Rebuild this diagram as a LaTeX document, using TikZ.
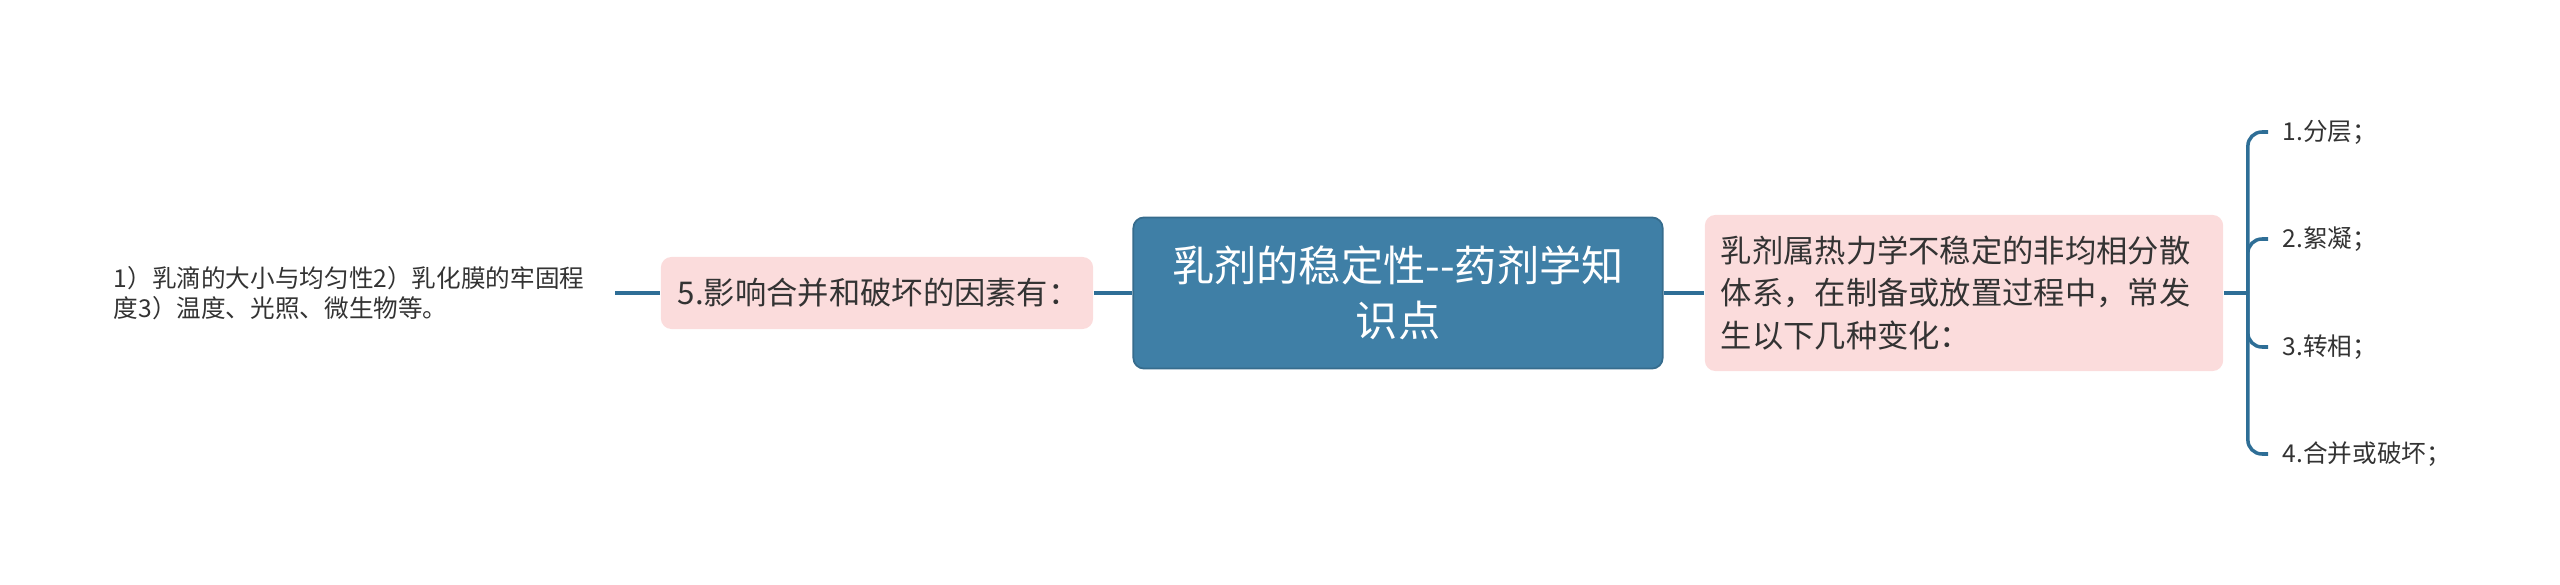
\documentclass[tikz,border=0pt]{standalone}
\usepackage{fontspec}
\setmainfont{Noto Sans CJK SC}
\definecolor{zhuti}{RGB}{63,127,166}
\definecolor{fenhong}{RGB}{251,220,220}
\definecolor{lianxian}{RGB}{46,110,150}
\definecolor{wenzi}{RGB}{51,51,51}
\tikzset{ %节点样式
    zhong/.style={fill=zhuti, draw=zhuti!85!black, line width=0.5pt, rounded corners=3pt, text=white, align=center,
        font=\fontsize{12}{15.6}\selectfont, minimum width=5.29cm, minimum height=1.51cm, inner sep=0pt},
    fen/.style={fill=fenhong, rounded corners=3pt, text=wenzi, align=left, font=\fontsize{8.9}{12}\selectfont, inner ysep=0pt},
    ye/.style={text=wenzi, font=\fontsize{7}{8.5}\selectfont, anchor=west, inner xsep=4pt, inner ysep=0pt},
    lian/.style={draw=lianxian, line width=1pt},
}

\begin{document}
\begin{tikzpicture}[x=0.01cm, y=-0.01cm]
			\useasboundingbox (0,0) rectangle (2560,585);
			\node[zhong] (wending) at (1398,293) {乳剂的稳定性-{}-药剂学知\\识点};
			\node[fen, text width=3.98cm, inner xsep=0.17cm, minimum height=0.72cm] (yinsu) at (877,293) {5.影响合并和破坏的因素有：};
			\node[fen, text width=4.86cm, inner xsep=0.16cm, minimum height=1.56cm] (bianhua) at (1964,293) {乳剂属热力学不稳定的非均相分散\\体系，在制备或放置过程中，常发\\生以下几种变化：};
			\node[ye, anchor=east, inner xsep=0.3cm, align=left] (yinsutxt) at (615,293) {1）乳滴的大小与均匀性2）乳化膜的牢固程\\度3）温度、光照、微生物等。};
			\draw[lian] (yinsutxt.east) -- (yinsu.west);
			\draw[lian] (yinsu.east) -- (wending.west);
			\draw[lian] (wending.east) -- (bianhua.west);
			\coordinate (fenzhi) at ([xshift=0.24cm]bianhua.east);
			\draw[lian] (bianhua.east) -- (fenzhi);
			\foreach \i/\txt/\y in {1/1.分层；/132, 2/2.絮凝；/239, 3/3.转相；/347, 4/4.合并或破坏；/454}{
				\node[ye] (leaf\i) at (2268,\y) {\txt};
				\draw[lian, rounded corners=4pt] (fenzhi) |- (leaf\i.west);
			}
		\end{tikzpicture}
\end{document}
